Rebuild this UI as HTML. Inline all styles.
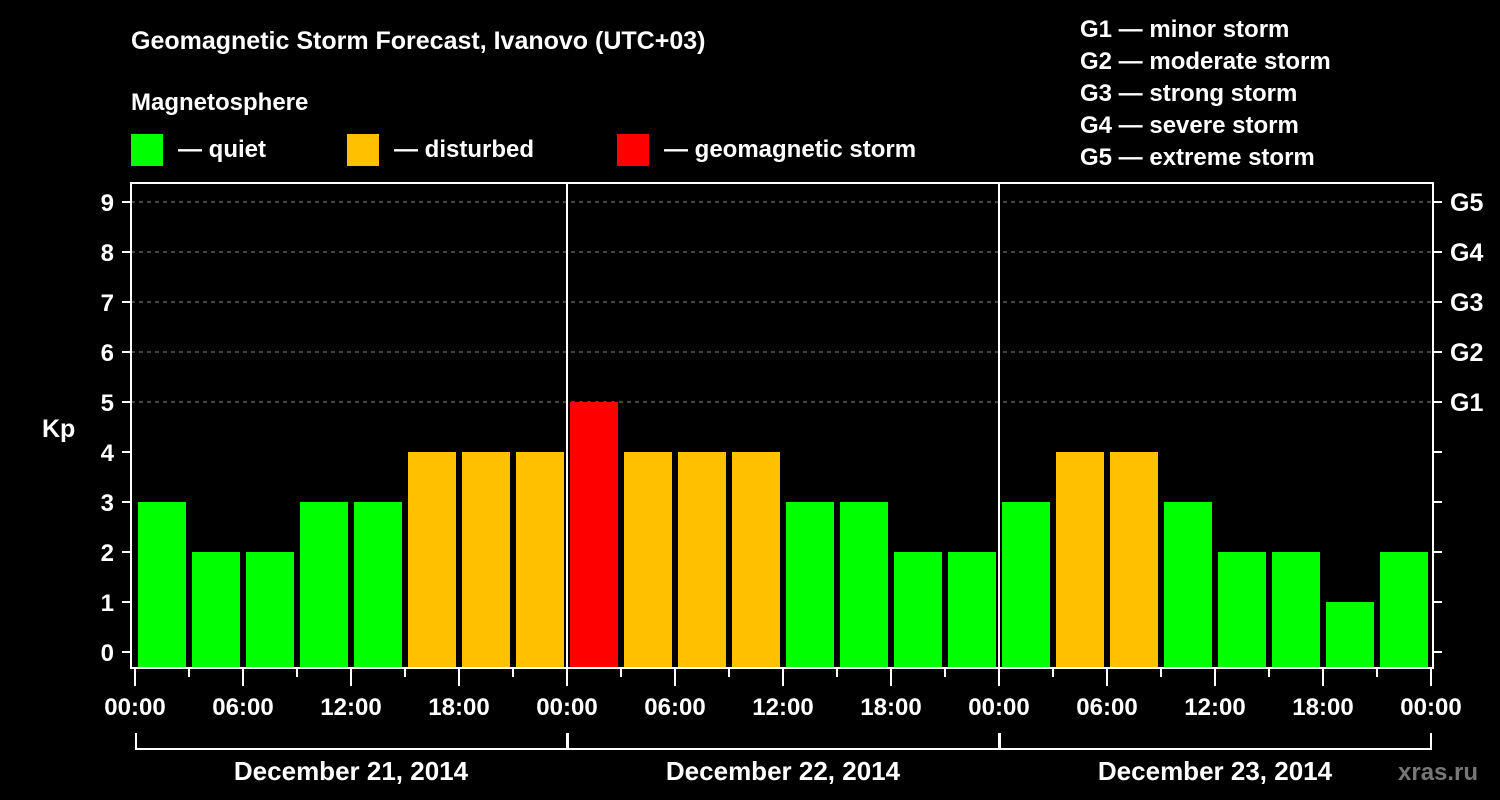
<!DOCTYPE html>
<html><head><meta charset="utf-8"><style>
html,body{margin:0;padding:0;background:#000;width:1500px;height:800px;overflow:hidden}
svg text{font-family:"Liberation Sans",Arial,sans-serif;font-weight:bold;fill:#fff}
</style></head><body>
<svg id="chart" width="1500" height="800" xmlns="http://www.w3.org/2000/svg">
<text x="131" y="49" font-size="25">Geomagnetic Storm Forecast, Ivanovo (UTC+03)</text>
<text x="131" y="110" font-size="24">Magnetosphere</text>
<g>
<rect x="131" y="134" width="32" height="32" fill="#00ff00"/>
<text x="178" y="157" font-size="24">— quiet</text>
<rect x="347" y="134" width="32" height="32" fill="#ffc000"/>
<text x="394" y="157" font-size="24">— disturbed</text>
<rect x="617" y="134" width="32" height="32" fill="#ff0000"/>
<text x="664" y="157" font-size="24">— geomagnetic storm</text>
</g>
<g font-size="24">
<text x="1080" y="37">G1 — minor storm</text>
<text x="1080" y="69">G2 — moderate storm</text>
<text x="1080" y="101">G3 — strong storm</text>
<text x="1080" y="133">G4 — severe storm</text>
<text x="1080" y="165">G5 — extreme storm</text>
</g>
<text x="42" y="437" font-size="25">Kp</text>
<text x="1398" y="780" font-size="24" style="fill:#777">xras.ru</text>
<g id="grid"></g><g id="bars"></g><g id="axes"></g>
</svg>
<script>
const kpValues=[3,2,2,3,3,4,4,4,5,4,4,4,3,3,2,2,3,4,4,3,2,2,1,2];
const yTicks=[0,1,2,3,4,5,6,7,8,9];
const gLabels=["G1","G2","G3","G4","G5"];
const timeLabels=["00:00","06:00","12:00","18:00"];
const dayLabels=["December 21, 2014","December 22, 2014","December 23, 2014"];
const NS="http://www.w3.org/2000/svg";
const X0=135,BIN=54,PL=131,PR=1433,PT=183,PB=668;
const xPos=i=>X0+i*BIN;
const yPos=v=>652-v*50;
function mk(parent,tag,attrs){const e=document.createElementNS(NS,tag);for(const k in attrs)e.setAttribute(k,attrs[k]);document.getElementById(parent).appendChild(e);return e;}
yTicks.forEach(v=>{
  if(v>=5){const l=mk('grid','line',{x1:PL,x2:PR,y1:yPos(v),y2:yPos(v),stroke:'#888','stroke-dasharray':'4,4','stroke-width':1});
  
  }
  const t=mk('axes','line',{x1:122,x2:PL,y1:yPos(v),y2:yPos(v),stroke:'#fff','stroke-width':2});
  
  
  const tr=mk('axes','line',{x1:PR,x2:1442,y1:yPos(v),y2:yPos(v),stroke:'#fff','stroke-width':2});
  
  
  const lb=mk('axes','text',{x:114,y:yPos(v)+9,'font-size':24,'text-anchor':'end'});lb.textContent=v;
  
  
});
gLabels.forEach((g,i)=>{const t=mk('axes','text',{x:1450,y:yPos(5+i)+9,'font-size':25});t.textContent=g;
  
  });
kpValues.forEach((v,i)=>{
  const c=v>=5?'#ff0000':(v>=4?'#ffc000':'#00ff00');
  const r=mk('bars','rect',{x:xPos(i)+3,y:yPos(v),width:BIN-6,height:PB-yPos(v),fill:c});
  
  
});
const box=mk('axes','rect',{x:PL,y:PT,width:PR-PL,height:PB-PT,fill:'none',stroke:'#fff','stroke-width':2});


for(let d=1;d<3;d++){const l=mk('axes','line',{x1:xPos(d*8),x2:xPos(d*8),y1:PT,y2:PB,stroke:'#fff','stroke-width':2});
  
  }
for(let i=0;i<=kpValues.length;i++){
  const major=i%2===0;
  const t=mk('axes','line',{x1:xPos(i),x2:xPos(i),y1:PB,y2:major?686:677,stroke:'#fff','stroke-width':2});
  
  
  if(major){const lb=mk('axes','text',{x:xPos(i),y:715,'font-size':24,'text-anchor':'middle'});
    lb.textContent=timeLabels[(i/2)%4];
    
    }
}
dayLabels.forEach((d,k)=>{
  const a=xPos(k*8),b=xPos(k*8+8);
  const p=mk('axes','path',{d:`M${a+1},733V749H${b}${k===2?'V733':''}M${b},749V733`,fill:'none',stroke:'#fff','stroke-width':2});
  
  
  const t=mk('axes','text',{x:(a+b)/2,y:780,'font-size':26,'text-anchor':'middle'});t.textContent=d;
  
  
});
</script>
</body></html>
